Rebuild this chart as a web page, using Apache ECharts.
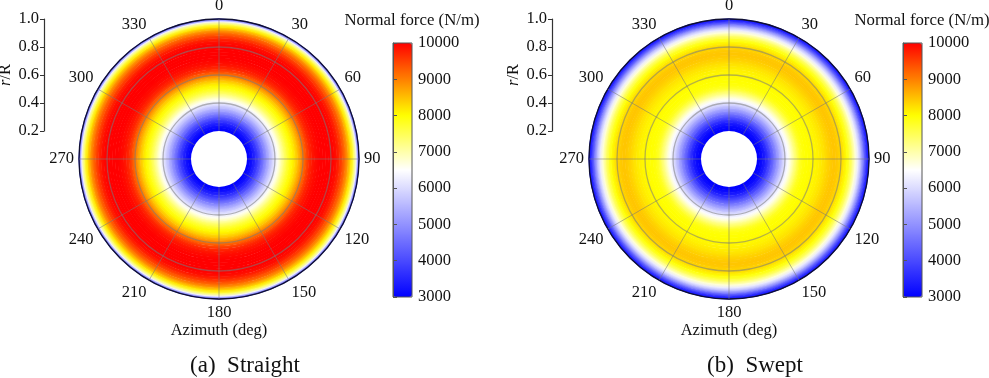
<!DOCTYPE html>
<html>
<head>
<meta charset="utf-8">
<title>Normal force distribution</title>
<script src="https://cdn.jsdelivr.net/npm/echarts@6/dist/echarts.min.js"></script>
<style>
  html, body { margin: 0; padding: 0; background: #fff; }
  #chart { width: 989px; height: 378px; }
</style>
</head>
<body>
<div id="chart"></div>
<script>
// radial stations r/R (hub cut-out at 0.2)
const rStations = [0.20, 0.22, 0.24, 0.26, 0.28, 0.30, 0.32, 0.34, 0.36, 0.38,
  0.40, 0.42, 0.44, 0.46, 0.48, 0.50, 0.52, 0.54, 0.56, 0.58,
  0.60, 0.62, 0.64, 0.66, 0.68, 0.70, 0.72, 0.74, 0.76, 0.78,
  0.80, 0.82, 0.84, 0.86, 0.88, 0.90, 0.92, 0.94, 0.96, 0.98, 1.00]

// normal force (N/m) along the radius
const straightForce = [3000, 3100, 3300, 3600, 3950, 4350, 4750, 5150, 5550, 5900,
  6250, 6600, 6950, 7300, 7600, 7850, 8050, 8250, 8500, 8800,
  9100, 9400, 9650, 9800, 9900, 9950, 10000, 10000, 10000, 10000,
  10000, 9950, 9850, 9650, 9400, 9100, 8700, 8200, 7500, 6300, 3600]

const sweptForce = [3000, 3050, 3200, 3450, 3800, 4200, 4600, 5000, 5400, 5800,
  6150, 6450, 6800, 7150, 7450, 7750, 7900, 7980, 8000, 8020,
  8050, 8080, 8120, 8180, 8250, 8330, 8400, 8450, 8450, 8400,
  8300, 8150, 7950, 7650, 7250, 6750, 6200, 5500, 4600, 3700, 3100]

const panelTitles = ['(a)  Straight', '(b)  Swept']
const forceMin = 3000
const forceMax = 10000

const FONT = 'Liberation Serif, Times New Roman, serif'
const FS = 16.5
const INK = '#111'
const GRID_LINE = 'rgba(120, 120, 120, 0.55)'

// blue -> white -> yellow -> red, one colour every 500 N/m
const colorMap = ['#0000ff', '#2525ff', '#4949ff', '#6d6dff', '#9292ff', '#b6b6ff', '#dbdbff',
  '#ffffff', '#ffffaa', '#ffff55', '#ffff00', '#ffc000', '#ff8000', '#ff4000', '#ff0000']

function toSeriesData (force) {
  return rStations.map((r, i) => [r, force[i]])
}

function forceColor (v) {
  return echarts.color.lerp((v - forceMin) / (forceMax - forceMin), colorMap)
}

// ring from station i out to station i+1, shaded from its colour to the next one
function makeRenderer (force) {
  return function (params, api) {
    const i = params.dataIndex
    if (i >= rStations.length - 1) return
    const cx = params.coordSys.cx
    const cy = params.coordSys.cy
    const rIn = api.coord([rStations[i], 0])[2]
    const rOut = api.coord([rStations[i + 1], 0])[2] + 0.5
    const c0 = api.visual('color')
    const c1 = forceColor(force[i + 1])
    return {
      type: 'ring',
      shape: { cx: cx, cy: cy, r0: rIn, r: rOut },
      style: {
        fill: {
          type: 'radial',
          x: cx,
          y: cy,
          r: rOut,
          global: true,
          colorStops: [{ offset: rIn / rOut, color: c0 }, { offset: 1, color: c1 }]
        }
      }
    }
  }
}

const centersX = [219, 729]
const barLeft = [393, 903]
const rAxisLeft = [43, 552]

const chart = echarts.init(document.getElementById('chart'))

const option = {
  animation: false,
  textStyle: { fontFamily: FONT },
  polar: centersX.map(x => ({ center: [x, 159], radius: [28, 140] })),
  angleAxis: centersX.map((x, k) => ({
    polarIndex: k,
    type: 'value',
    min: 0,
    max: 360,
    interval: 30,
    startAngle: 90,
    clockwise: true,
    z: 10,
    axisLine: { show: false },
    axisTick: { show: false },
    axisLabel: { margin: 5, fontSize: FS, color: INK, fontFamily: FONT },
    splitLine: { lineStyle: { color: GRID_LINE, width: 1 } }
  })),
  radiusAxis: centersX.map((x, k) => ({
    polarIndex: k,
    type: 'value',
    min: 0.2,
    max: 1.0,
    interval: 0.2,
    z: 10,
    axisLine: { show: false },
    axisTick: { show: false },
    axisLabel: { show: false },
    splitLine: {
      lineStyle: {
        // hub edge hidden, outer edge drawn as the dark border
        color: ['rgba(0,0,0,0)', GRID_LINE, GRID_LINE, GRID_LINE, '#101030'],
        width: 1.3
      }
    }
  })),
  grid: [
    { left: rAxisLeft[0], top: 19, width: 1, height: 112 },
    { left: rAxisLeft[1], top: 19, width: 1, height: 112 },
    { left: barLeft[0], top: 43, width: 19, height: 254, show: true, z: 10, borderColor: '#555', borderWidth: 1 },
    { left: barLeft[1], top: 43, width: 19, height: 254, show: true, z: 10, borderColor: '#555', borderWidth: 1 }
  ],
  xAxis: [0, 1, 2, 3].map(k => ({ gridIndex: k, type: 'value', show: false })),
  yAxis: [
    ...[0, 1].map(k => ({
      gridIndex: k,
      type: 'value',
      position: 'left',
      min: 0.2,
      max: 1.0,
      interval: 0.2,
      name: '{i|r}/R',
      nameLocation: 'middle',
      nameGap: 27,
      nameTextStyle: {
        fontSize: FS,
        color: INK,
        fontFamily: FONT,
        rich: { i: { fontStyle: 'italic', fontSize: FS, color: INK, fontFamily: FONT } }
      },
      axisLine: { show: true, lineStyle: { color: '#333', width: 1.2 } },
      axisTick: { show: true, length: 4, lineStyle: { color: '#333' } },
      axisLabel: { margin: 5, fontSize: FS, color: INK, fontFamily: FONT, formatter: v => v.toFixed(1) },
      splitLine: { show: false }
    })),
    ...[2, 3].map(k => ({
      gridIndex: k,
      type: 'value',
      position: 'right',
      min: forceMin,
      max: forceMax,
      interval: 1000,
      z: 10,
      axisLine: { show: true, lineStyle: { color: '#555', width: 1 } },
      axisTick: { show: true, length: 4, lineStyle: { color: '#555' } },
      axisLabel: { margin: 6, fontSize: FS, color: INK, fontFamily: FONT, formatter: v => String(v) },
      splitLine: { show: false }
    }))
  ],
  visualMap: [0, 1].map(k => ({
    type: 'continuous',
    seriesIndex: k,
    dimension: 1,
    min: forceMin,
    max: forceMax,
    left: barLeft[k],
    top: 43,
    itemWidth: 19,
    itemHeight: 254,
    padding: 0,
    calculable: false,
    text: null,
    showLabel: false,
    hoverLink: false,
    inRange: { color: colorMap }
  })),
  graphic: [
    ...centersX.map((x, k) => ({
      type: 'text',
      x: barLeft[k] + 19,
      y: 21,
      style: { text: 'Normal force (N/m)', font: '16.8px ' + FONT, fill: INK, align: 'center', verticalAlign: 'middle' }
    })),
    ...centersX.map(x => ({
      type: 'text',
      x: x,
      y: 331,
      style: { text: 'Azimuth (deg)', font: FS + 'px ' + FONT, fill: INK, align: 'center', verticalAlign: 'middle' }
    })),
    ...centersX.map((x, k) => ({
      type: 'text',
      x: x + 26,
      y: 366,
      style: { text: panelTitles[k], font: '23px ' + FONT, fill: INK, align: 'center', verticalAlign: 'middle' }
    }))
  ],
  series: [straightForce, sweptForce].map((force, k) => ({
    type: 'custom',
    name: panelTitles[k],
    coordinateSystem: 'polar',
    polarIndex: k,
    z: 2,
    silent: true,
    dimensions: ['r', 'force'],
    encode: { radius: 0 },
    renderItem: makeRenderer(force),
    data: toSeriesData(force)
  }))
}

chart.setOption(option)
</script>
</body>
</html>
